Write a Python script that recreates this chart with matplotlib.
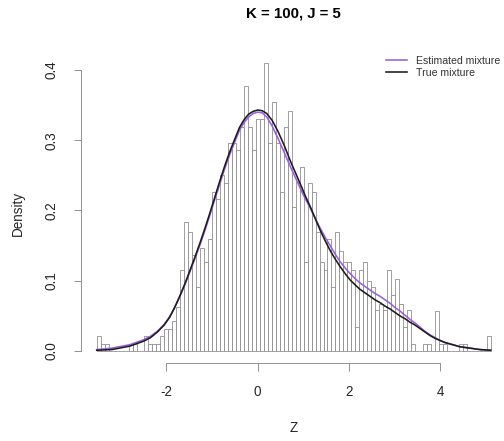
import matplotlib
matplotlib.use("Agg")
import matplotlib.pyplot as plt
import numpy as np

plt.rcParams['font.family'] = ['Liberation Sans', 'DejaVu Sans']

# range of Z covered by the histogram (99 equal-width cells)
z_min, z_max = -3.53, 5.11

# histogram heights on the density scale, left to right
density = [
    0.021, 0.010, 0.010, 0.000, 0.000, 0.000, 0.000, 0.000, 0.010, 0.010,
    0.000, 0.000, 0.021, 0.010, 0.010, 0.010, 0.021, 0.031, 0.031, 0.042,
    0.063, 0.115, 0.183, 0.170, 0.136, 0.091, 0.147, 0.126, 0.159, 0.227,
    0.217, 0.250, 0.239, 0.296, 0.296, 0.286, 0.319, 0.377, 0.319, 0.286,
    0.330, 0.330, 0.410, 0.296, 0.354, 0.296, 0.227, 0.319, 0.342, 0.205,
    0.240, 0.262, 0.126, 0.239, 0.227, 0.170, 0.126, 0.115, 0.159, 0.091,
    0.170, 0.142, 0.126, 0.126, 0.115, 0.034, 0.115, 0.126, 0.100, 0.091,
    0.058, 0.067, 0.058, 0.115, 0.080, 0.103, 0.067, 0.034, 0.058, 0.010,
    0.000, 0.000, 0.010, 0.010, 0.000, 0.057, 0.010, 0.010, 0.000, 0.000,
    0.000, 0.010, 0.010, 0.000, 0.000, 0.000, 0.000, 0.000, 0.021,
]

# mixture densities evaluated along z
z_grid = [-3.53, -3.2, -2.8, -2.5, -2.35, -2.2, -2.05, -1.93, -1.82, -1.71,
          -1.6, -1.49, -1.38, -1.27, -1.16, -1.05, -0.94, -0.83, -0.72, -0.61,
          -0.5, -0.4, -0.3, -0.2, -0.1, 0.0, 0.1, 0.2, 0.32, 0.45,
          0.58, 0.72, 0.84, 0.96, 1.05, 1.15, 1.26, 1.37, 1.48, 1.59,
          1.7, 1.81, 1.92, 2.03, 2.14, 2.24, 2.35, 2.46, 2.57, 2.68,
          2.79, 2.9, 3.01, 3.12, 3.23, 3.34, 3.45, 3.56, 3.67, 3.78,
          3.89, 4.0, 4.11, 4.22, 4.44, 4.66, 4.88, 5.11]
est_mix = [0.002, 0.004, 0.009, 0.016, 0.021, 0.028, 0.038, 0.049, 0.062, 0.077,
           0.094, 0.112, 0.131, 0.150, 0.171, 0.193, 0.216, 0.238, 0.260, 0.280,
           0.298, 0.314, 0.325, 0.333, 0.338, 0.340, 0.339, 0.333, 0.320, 0.302,
           0.283, 0.262, 0.245, 0.228, 0.216, 0.204, 0.189, 0.175, 0.162, 0.150,
           0.138, 0.127, 0.118, 0.110, 0.103, 0.097, 0.092, 0.087, 0.082, 0.078,
           0.073, 0.068, 0.062, 0.057, 0.051, 0.045, 0.040, 0.034, 0.028, 0.023,
           0.019, 0.015, 0.012, 0.010, 0.006, 0.004, 0.002, 0.001]
true_mix = [0.001, 0.002, 0.007, 0.014, 0.019, 0.027, 0.037, 0.048, 0.062, 0.078,
            0.095, 0.114, 0.133, 0.153, 0.174, 0.196, 0.219, 0.242, 0.264, 0.284,
            0.302, 0.318, 0.329, 0.337, 0.341, 0.343, 0.342, 0.338, 0.328, 0.312,
            0.293, 0.270, 0.252, 0.234, 0.220, 0.206, 0.189, 0.172, 0.157, 0.143,
            0.131, 0.120, 0.110, 0.101, 0.094, 0.088, 0.083, 0.078, 0.073, 0.069,
            0.064, 0.060, 0.055, 0.050, 0.046, 0.041, 0.037, 0.032, 0.027, 0.022,
            0.018, 0.015, 0.012, 0.010, 0.006, 0.004, 0.002, 0.001]

x_ticks = [-2, 0, 2, 4]
y_ticks = [0.0, 0.1, 0.2, 0.3, 0.4]

edges = np.linspace(z_min, z_max, len(density) + 1)

fig = plt.figure(figsize=(7, 6.125), dpi=72)
ax = fig.add_axes([0.1607, 0.178, 0.844, 0.7054])

grey = '#8a8a8a'
ax.bar(edges[:-1], density, width=np.diff(edges), align='edge',
       facecolor='white', edgecolor=grey, linewidth=0.8)
ax.plot(z_grid, est_mix, color='#9b5de5', lw=1.6, label='Estimated mixture')
ax.plot(z_grid, true_mix, color='#1c1c1c', lw=1.6, label='True mixture')

# R-style axes: 4% padding, axis lines only span the ticks
pad_x = 0.04 * (z_max - z_min)
ax.set_xlim(z_min - pad_x, z_max + pad_x)
ax.set_ylim(-0.04 * 0.41, 0.41 * 1.04)
for side in ['top', 'right']:
    ax.spines[side].set_visible(False)
ax.spines['left'].set_bounds(0, 0.4)
ax.spines['bottom'].set_bounds(-2, 4)
for side in ['left', 'bottom']:
    ax.spines[side].set_color(grey)
    ax.spines[side].set_linewidth(0.9)

ax.set_xticks(x_ticks)
ax.set_xticklabels([str(t) for t in x_ticks])
ax.set_yticks(y_ticks)
ax.set_yticklabels([f'{t:.1f}' for t in y_ticks], rotation=90, va='center')
ax.tick_params(axis='both', direction='out', length=7.5, width=0.9,
               color=grey, labelsize=13.5, labelcolor='#262626')
ax.tick_params(axis='x', pad=15)
ax.tick_params(axis='y', pad=15)

ax.legend(loc='upper left', bbox_to_anchor=(386 / 504, 1 - 56 / 441),
          bbox_transform=fig.transFigure, frameon=False, fontsize=10.5,
          handlelength=2.0, handletextpad=0.9, labelspacing=0.15,
          borderpad=0, borderaxespad=0, labelcolor='#333333')

fig.text(293.7 / 504, 1 - 14 / 441, 'K = 100, J = 5', ha='center', va='center',
         fontsize=15, fontweight='bold')
fig.text(293.7 / 504, 1 - 428 / 441, 'Z', ha='center', va='center',
         fontsize=13.5, color='#262626')
fig.text(18 / 504, 1 - 213 / 441, 'Density', rotation=90, ha='center',
         va='center', fontsize=13.5, color='#262626')

fig.savefig('out.png', dpi=72)
